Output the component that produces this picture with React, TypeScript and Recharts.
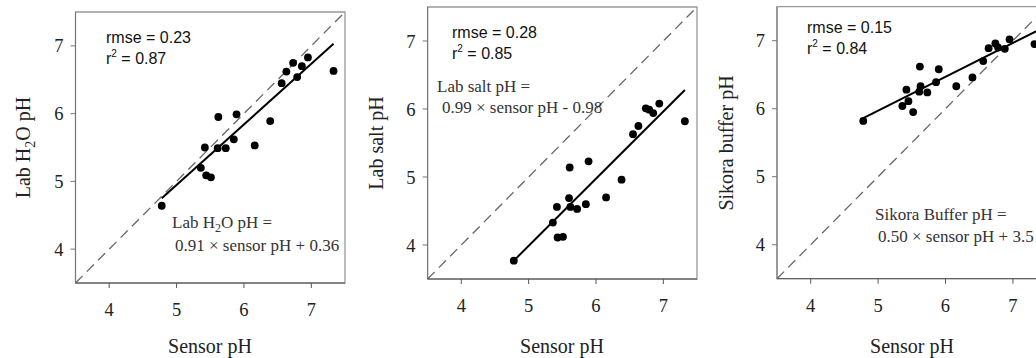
import React from "react";
import {
  ScatterChart,
  Scatter,
  XAxis,
  YAxis,
  ReferenceLine,
  ReferenceArea,
} from "recharts";

// sensor pH readings and lab values
const sensorPh1 = [4.78, 5.36, 5.42, 5.44, 5.51, 5.62, 5.61, 5.73, 5.85, 5.89, 6.16, 6.39, 6.56, 6.63, 6.73, 6.79, 6.86, 6.95, 7.33];
const labH2oPh = [4.64, 5.2, 5.5, 5.09, 5.06, 5.95, 5.49, 5.49, 5.62, 5.99, 5.53, 5.89, 6.45, 6.62, 6.75, 6.54, 6.7, 6.83, 6.63];

const sensorPh2 = [4.78, 5.36, 5.42, 5.43, 5.51, 5.61, 5.6, 5.62, 5.72, 5.85, 5.89, 6.15, 6.38, 6.55, 6.63, 6.74, 6.79, 6.85, 6.94, 7.32];
const labSaltPh = [3.77, 4.33, 4.56, 4.11, 4.12, 5.14, 4.69, 4.56, 4.53, 4.6, 5.23, 4.7, 4.96, 5.63, 5.75, 6.01, 5.99, 5.94, 6.08, 5.82];

const sensorPh3 = [4.78, 5.36, 5.42, 5.45, 5.52, 5.62, 5.63, 5.61, 5.73, 5.86, 5.9, 6.16, 6.4, 6.56, 6.64, 6.74, 6.78, 6.88, 6.95, 7.32];
const sikoraPh = [5.82, 6.04, 6.28, 6.11, 5.95, 6.62, 6.33, 6.25, 6.24, 6.39, 6.58, 6.33, 6.46, 6.7, 6.89, 6.96, 6.9, 6.88, 7.02, 6.95];

// regression line end points (x, y)
const fit1 = [[4.78, 4.75], [7.33, 7.03]];
const fit2 = [[4.78, 3.77], [7.32, 6.28]];
const fit3 = [[4.78, 5.86], [7.37, 7.15]];

const oneToOne = [[3.5, 3.5], [7.5, 7.5]];
const domain: [number, number] = [3.5, 7.5];
const ticks = [4, 5, 6, 7];

const SERIF = "'Liberation Serif', 'Times New Roman', serif";
const SANS = "'Liberation Sans', Arial, sans-serif";

function toPoints(xs: number[], ys: number[]) {
  return xs.map((x, i) => ({ x, y: ys[i] }));
}

const Dot = (p: any) => <circle cx={p.cx} cy={p.cy} r={3.9} fill="#000" />;

const XTick = (p: any) => (
  <text x={p.x} y={p.y} dy={14} textAnchor="middle" fontFamily={SERIF} fontSize={18.5} fill="#222">
    {p.payload.value}
  </text>
);

const YTick = (p: any) => (
  <text x={p.x} y={p.y} dy={6.5} textAnchor="end" fontFamily={SERIF} fontSize={18.5} fill="#222">
    {p.payload.value}
  </text>
);

type PanelProps = {
  left: number;
  plotLeft: number;
  plotRight: number;
  plotTop: number;
  plotBottom: number;
  data: { x: number; y: number }[];
  fit: number[][];
};

function Panel({ left, plotLeft, plotRight, plotTop, plotBottom, data, fit }: PanelProps) {
  const width = plotRight - left + 10;
  const height = 358;
  const xAxisHeight = 50;
  return (
    <div style={{ position: "absolute", left, top: 0 }}>
      <ScatterChart
        width={width}
        height={height}
        margin={{ top: plotTop, right: 10, bottom: height - plotBottom - xAxisHeight, left: 0 }}
      >
        <XAxis
          type="number"
          dataKey="x"
          domain={domain}
          ticks={ticks}
          allowDataOverflow
          height={xAxisHeight}
          tick={XTick}
          tickSize={5}
          tickMargin={14}
          stroke="#555"
          tickLine={{ stroke: "#555" }}
        />
        <YAxis
          type="number"
          dataKey="y"
          domain={domain}
          ticks={ticks}
          allowDataOverflow
          width={plotLeft - left}
          tick={YTick}
          tickSize={5}
          tickMargin={7}
          stroke="#777"
          tickLine={{ stroke: "#777" }}
        />
        <ReferenceArea
          x1={3.5}
          x2={7.5}
          y1={3.5}
          y2={7.5}
          fill="none"
          stroke="#999"
          strokeWidth={1.3}
          ifOverflow="visible"
        />
        <ReferenceLine
          segment={oneToOne.map(([x, y]) => ({ x, y }))}
          stroke="#666"
          strokeWidth={1.3}
          strokeDasharray="10 6"
          ifOverflow="visible"
        />
        <ReferenceLine
          segment={fit.map(([x, y]) => ({ x, y }))}
          stroke="#000"
          strokeWidth={2}
          ifOverflow="visible"
        />
        <Scatter data={data} shape={Dot} isAnimationActive={false} />
      </ScatterChart>
    </div>
  );
}

function Stats({ x, y, rmse, r2 }: { x: number; y: number; rmse: string; r2: string }) {
  return (
    <g fontFamily={SANS} fontSize={16} fill="#111">
      <text x={x} y={y}>rmse = {rmse}</text>
      <text x={x} y={y + 21}>
        r<tspan dy={-7} fontSize={10}>2</tspan>
        <tspan dy={7}> = {r2}</tspan>
      </text>
    </g>
  );
}

export default function App() {
  const d1 = toPoints(sensorPh1, labH2oPh);
  const d2 = toPoints(sensorPh2, labSaltPh);
  const d3 = toPoints(sensorPh3, sikoraPh);

  const titleStyle = { fontFamily: SERIF, fontSize: 20, fill: "#222" };
  const eqStyle = { fontFamily: SERIF, fontSize: 17, fill: "#333" };

  return (
    <div
      style={{
        position: "fixed",
        left: 0,
        top: 0,
        width: 1036,
        height: 358,
        overflow: "hidden",
        background: "#fff",
      }}
    >
      <Panel left={0} plotLeft={75.5} plotRight={345} plotTop={12} plotBottom={283} data={d1} fit={fit1} />
      <Panel left={350} plotLeft={427.6} plotRight={697} plotTop={7} plotBottom={279} data={d2} fit={fit2} />
      <Panel left={700} plotLeft={777} plotRight={1046.6} plotTop={6.7} plotBottom={278.7} data={d3} fit={fit3} />

      <svg
        width={1036}
        height={358}
        style={{ position: "absolute", left: 0, top: 0, pointerEvents: "none" }}
      >
        {/* x titles */}
        <text x={210} y={353} textAnchor="middle" {...titleStyle}>Sensor pH</text>
        <text x={562} y={353} textAnchor="middle" {...titleStyle}>Sensor pH</text>
        <text x={912} y={353} textAnchor="middle" {...titleStyle}>Sensor pH</text>

        {/* y titles */}
        <text transform="translate(30,147.5) rotate(-90)" textAnchor="middle" {...titleStyle}>
          Lab H<tspan dy={5} fontSize={14}>2</tspan>
          <tspan dy={-5}>O pH</tspan>
        </text>
        <text transform="translate(382.5,143) rotate(-90)" textAnchor="middle" {...titleStyle}>
          Lab salt pH
        </text>
        <text transform="translate(732.5,143) rotate(-90)" textAnchor="middle" {...titleStyle}>
          Sikora buffer pH
        </text>

        <Stats x={106} y={43} rmse="0.23" r2="0.87" />
        <Stats x={452} y={37.5} rmse="0.28" r2="0.85" />
        <Stats x={807} y={33} rmse="0.15" r2="0.84" />

        <g {...eqStyle}>
          <text x={172} y={228}>
            Lab H<tspan dy={4} fontSize={12}>2</tspan>
            <tspan dy={-4}>O pH =</tspan>
          </text>
          <text x={175} y={251}>0.91 × sensor pH + 0.36</text>

          <text x={437} y={92}>Lab salt pH =</text>
          <text x={442} y={113}>0.99 × sensor pH - 0.98</text>

          <text x={875} y={220}>Sikora Buffer pH =</text>
          <text x={878} y={242}>0.50 × sensor pH + 3.5</text>
        </g>
      </svg>
    </div>
  );
}
